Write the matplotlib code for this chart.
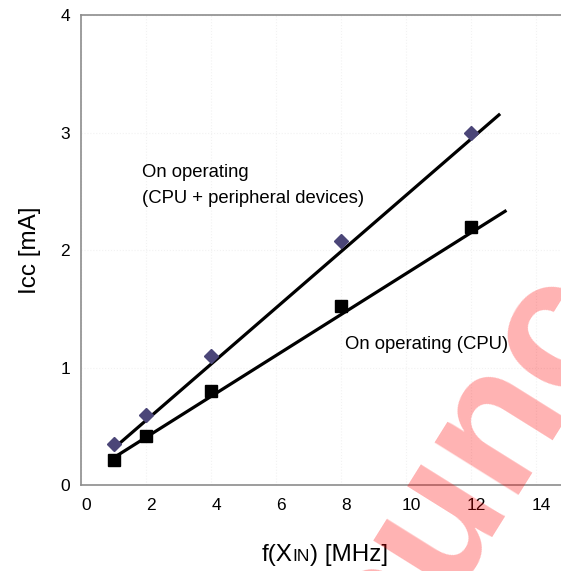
import numpy as np
import matplotlib.pyplot as plt
from matplotlib.offsetbox import TextArea, HPacker, AnnotationBbox
import matplotlib.transforms as mtransforms

# data
freq = [1, 2, 4, 8, 12]
icc_all = [0.35, 0.60, 1.10, 2.08, 3.00]   # CPU + peripheral devices
icc_cpu = [0.21, 0.42, 0.80, 1.52, 2.20]   # CPU only
# trend lines as drawn in the chart (start / end)
trend_all_x = [1.0, 12.86]
trend_all_y = [0.31, 3.15]
trend_cpu_x = [1.05, 13.05]
trend_cpu_y = [0.24, 2.33]
x_ticks = [0, 2, 4, 6, 8, 10, 12, 14]
y_ticks = [0, 1, 2, 3, 4]

plt.rcParams['font.family'] = ['Liberation Sans', 'DejaVu Sans']

fig = plt.figure(figsize=(5.61, 5.71), dpi=100)
ax = fig.add_axes([0.1444, 0.1506, 0.8556, 0.8231])

ax.set_xlim(0, 14.77)
ax.set_ylim(0, 4)
ax.set_xticks(x_ticks)
ax.set_yticks(y_ticks)
ax.tick_params(length=0, labelsize=12.5)
ax.tick_params(axis='x', pad=9)
ax.tick_params(axis='y', pad=8)
# excel puts the x labels a little to the right
offset = mtransforms.ScaledTranslation(5 / 100, 0, fig.dpi_scale_trans)
for lab in ax.get_xticklabels():
    lab.set_transform(lab.get_transform() + offset)

for s in ['left', 'bottom', 'top']:
    ax.spines[s].set_color('#8c8c8c')
    ax.spines[s].set_linewidth(1.2)
ax.spines['right'].set_visible(False)
ax.grid(True, color='#f2f2f2', lw=0.8, ls=':')
ax.set_axisbelow(True)

ax.plot(trend_all_x, trend_all_y, color='black', lw=2.3, zorder=2)
ax.plot(trend_cpu_x, trend_cpu_y, color='black', lw=2.3, zorder=2)

ax.plot(freq, icc_all, 'D', color='#4b4678', ms=7.5, zorder=3)
ax.plot(freq, icc_cpu, 's', color='black', ms=8, zorder=3)

ax.text(1.87, 2.62, 'On operating', fontsize=13.3)
ax.text(1.87, 2.40, '(CPU + peripheral devices)', fontsize=13.3)
ax.text(8.12, 1.155, 'On operating (CPU)', fontsize=13.3)

ax.set_ylabel('Icc [mA]', fontsize=17.5, labelpad=14)

# x label with small caps "IN"
parts = [TextArea('f(X', textprops=dict(size=17.5)),
         TextArea('IN', textprops=dict(size=12.5)),
         TextArea(') [MHz]', textprops=dict(size=17.5))]
box = HPacker(children=parts, align='baseline', pad=0, sep=0)
ab = AnnotationBbox(box, (325 / 561, 1 - 555 / 571), xycoords='figure fraction',
                    frameon=False, box_alignment=(0.5, 0.5))
fig.add_artist(ab)

# watermark
fig.text(0.835, 0.17, 'sunc', fontsize=135, fontweight='bold', color='red',
         alpha=0.3, rotation=58, ha='center', va='center', zorder=10)

fig.savefig('out.png', dpi=100)
